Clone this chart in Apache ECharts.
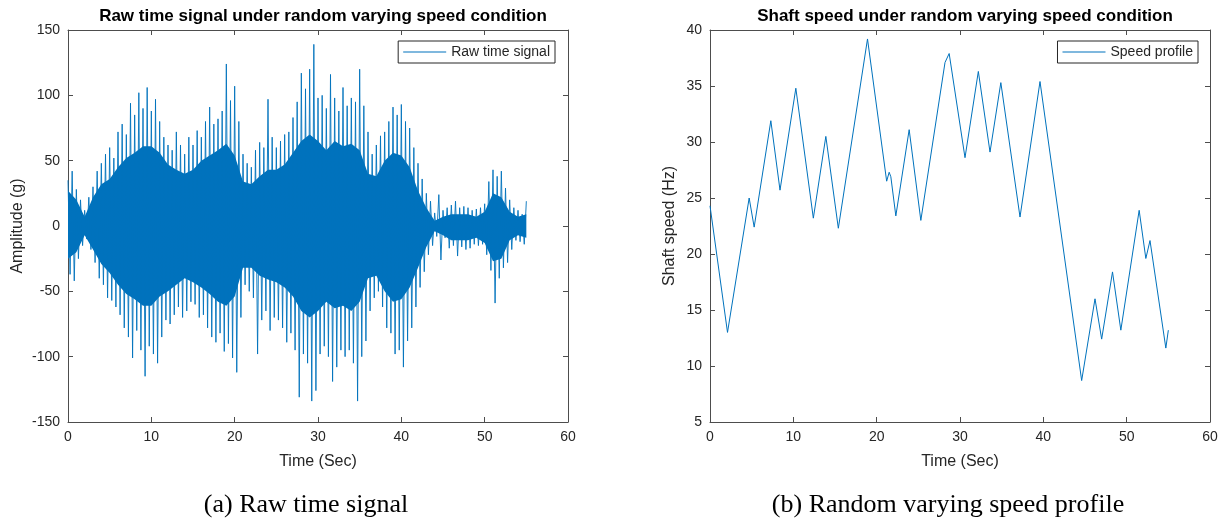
<!DOCTYPE html>
<html>
<head>
<meta charset="utf-8">
<title>Raw time signal and speed profile</title>
<script src="https://cdn.jsdelivr.net/npm/echarts@6/dist/echarts.min.js"></script>
<style>
  html, body { margin: 0; padding: 0; background: #fff; }
  #chart { width: 1226px; height: 524px; }
</style>
</head>
<body>
<div id="chart"></div>
<script>
// raw signal, solid dense core of the vibration (read every 1 s, t = 0..55)
var coreStep = 1;
var coreHi = [27, 20, 7, 22, 32, 36, 45, 52, 56, 61,
  61, 56, 47, 43, 40, 43, 50, 54, 58, 63,
  54, 34, 32, 38, 43, 43, 47, 56, 65, 70,
  65, 58, 65, 61, 63, 58, 40, 38, 50, 56,
  54, 45, 27, 14, 4, 7, 9, 9, 9, 7,
  11, 25, 22, 11, 7, 9];
var coreLo = [-25, -20, -7, -18, -29, -36, -45, -52, -56, -61,
  -61, -54, -50, -45, -40, -43, -47, -52, -58, -61,
  -54, -32, -32, -38, -41, -43, -47, -54, -65, -70,
  -65, -58, -63, -61, -65, -58, -40, -38, -50, -58,
  -56, -47, -32, -16, -4, -7, -11, -11, -11, -9,
  -13, -27, -25, -11, -7, -9];

// raw signal peaks, every 0.5 s: positive peak at t, negative peak at t + 0.25
var peakStep = 0.5;
var peakHi = [35, 42, 28, 20, 12, 22, 30, 42, 48, 55,
  60, 52, 72, 78, 70, 94, 85, 102, 90, 106,
  88, 97, 80, 68, 62, 58, 72, 62, 55, 68,
  62, 73, 68, 80, 91, 78, 82, 88, 124, 96,
  107, 80, 55, 48, 45, 58, 64, 60, 97, 68,
  60, 65, 70, 72, 83, 95, 117, 105, 120, 139,
  98, 100, 90, 116, 98, 88, 106, 92, 98, 95,
  120, 92, 72, 55, 62, 69, 72, 80, 91, 85,
  93, 80, 75, 60, 48, 36, 25, 19, 10, 24,
  12, 14, 16, 19, 14, 15, 14, 12, 13, 14,
  17, 34, 43, 38, 42, 29, 20, 14, 12, 9,
  19];
var peakLo = [-37, -42, -25, -15, -10, -18, -28, -40, -45, -55,
  -57, -62, -68, -78, -85, -101, -80, -95, -115, -92,
  -98, -105, -85, -72, -75, -68, -62, -70, -65, -58,
  -60, -70, -68, -78, -85, -89, -82, -96, -90, -101,
  -112, -70, -45, -50, -55, -98, -72, -65, -80, -70,
  -72, -78, -89, -82, -95, -131, -98, -105, -134, -126,
  -98, -92, -100, -119, -108, -95, -100, -95, -105, -134,
  -100, -88, -65, -55, -50, -62, -78, -82, -98, -95,
  -108, -88, -78, -62, -47, -35, -22, -15, -8, -26,
  -9, -17, -15, -23, -16, -18, -17, -14, -15, -14,
  -22, -34, -59, -40, -32, -28, -18, -11, -12, -14];

// shaft speed profile (Hz), turning points
var speedTime = [0, 2.1, 4.7, 5.3, 7.3, 8.4, 10.3, 12.4, 13.9, 15.4,
  18.9, 21.2, 21.5, 21.7, 22.3, 23.9, 25.3, 28.2, 28.7, 28.9,
  30.6, 32.2, 33.6, 34.9, 37.2, 39.6, 44.6, 46.2, 47.0, 48.3,
  49.3, 51.5, 52.3, 52.8, 54.7, 55.0];
var speedHz = [24.3, 13.0, 25.0, 22.4, 31.9, 25.7, 34.8, 23.2, 30.5, 22.3,
  39.2, 26.5, 27.3, 26.9, 23.4, 31.1, 23.0, 37.1, 37.9, 37.9,
  28.6, 36.3, 29.1, 35.3, 23.3, 35.4, 8.7, 16.0, 12.4, 18.4,
  13.2, 23.9, 19.6, 21.2, 11.6, 13.2];

var fontSans = '"Liberation Sans", Arial, Helvetica, sans-serif';
var textColor = '#262626';
var boxColor = '#4d4d4d';
var blue = '#0072BD';

var coreHiData = coreHi.map(function (v, i) { return [i * coreStep, v]; });
var coreLoData = coreLo.map(function (v, i) { return [i * coreStep, v]; });
var rawData = [];
peakHi.forEach(function (v, i) {
  rawData.push([i * peakStep, v]);
  if (i < peakLo.length) rawData.push([i * peakStep + peakStep / 2, peakLo[i]]);
});
var speedData = speedTime.map(function (t, i) { return [t, speedHz[i]]; });

function xAxis(grid, pos, main) {
  return {
    type: 'value', gridIndex: grid, position: pos,
    min: 0, max: 60, interval: 10,
    name: main ? 'Time (Sec)' : '', nameLocation: 'middle', nameGap: 32,
    nameTextStyle: { color: textColor, fontSize: 16, fontFamily: fontSans },
    axisLine: { show: true, onZero: false, lineStyle: { color: boxColor, width: 1 } },
    axisTick: { show: true, inside: true, length: 5, lineStyle: { color: boxColor } },
    axisLabel: { show: main, color: textColor, fontSize: 14, fontFamily: fontSans, margin: 8 },
    splitLine: { show: false }
  };
}

function yAxis(grid, pos, main, min, max, step, name, gap) {
  return {
    type: 'value', gridIndex: grid, position: pos,
    min: min, max: max, interval: step,
    name: main ? name : '', nameLocation: 'middle', nameGap: gap,
    nameTextStyle: { color: textColor, fontSize: 16, fontFamily: fontSans },
    axisLine: { show: true, onZero: false, lineStyle: { color: boxColor, width: 1 } },
    axisTick: { show: true, inside: true, length: 5, lineStyle: { color: boxColor } },
    axisLabel: { show: main, color: textColor, fontSize: 14, fontFamily: fontSans, margin: 8 },
    splitLine: { show: false }
  };
}

function legend(name, right) {
  return {
    data: [name], right: right, top: 41,
    icon: 'rect', itemWidth: 43, itemHeight: 1.2, itemGap: 0,
    padding: [4, 5, 4, 5],
    borderColor: textColor, borderWidth: 1, borderRadius: 0,
    backgroundColor: '#fff',
    textStyle: { color: textColor, fontSize: 14, fontFamily: fontSans, lineHeight: 14 }
  };
}

var chart = echarts.init(document.getElementById('chart'));
chart.setOption({
  animation: false,
  backgroundColor: '#fff',
  title: [
    { text: 'Raw time signal under random varying speed condition', left: 318, top: 3, textAlign: 'center',
      textStyle: { color: '#000', fontSize: 17, fontWeight: 'bold', fontFamily: fontSans } },
    { text: 'Shaft speed under random varying speed condition', left: 960, top: 3, textAlign: 'center',
      textStyle: { color: '#000', fontSize: 17, fontWeight: 'bold', fontFamily: fontSans } }
  ],
  legend: [legend('Raw time signal', 671), legend('Speed profile', 28)],
  grid: [
    { left: 68, top: 30, width: 500, height: 392 },
    { left: 710, top: 30, width: 500, height: 392 }
  ],
  xAxis: [xAxis(0, 'bottom', true), xAxis(0, 'top', false), xAxis(1, 'bottom', true), xAxis(1, 'top', false)],
  yAxis: [
    yAxis(0, 'left', true, -150, 150, 50, 'Amplitude (g)', 42),
    yAxis(0, 'right', false, -150, 150, 50, '', 0),
    yAxis(1, 'left', true, 5, 40, 5, 'Shaft speed (Hz)', 32),
    yAxis(1, 'right', false, 5, 40, 5, '', 0)
  ],
  series: [
    { name: 'core+', type: 'line', xAxisIndex: 0, yAxisIndex: 0, data: coreHiData,
      symbol: 'none', silent: true, lineStyle: { width: 0 },
      areaStyle: { color: blue, opacity: 1 }, itemStyle: { color: blue } },
    { name: 'core-', type: 'line', xAxisIndex: 0, yAxisIndex: 0, data: coreLoData,
      symbol: 'none', silent: true, lineStyle: { width: 0 },
      areaStyle: { color: blue, opacity: 1 }, itemStyle: { color: blue } },
    { name: 'Raw time signal', type: 'line', xAxisIndex: 0, yAxisIndex: 0, data: rawData,
      symbol: 'none', sampling: 'none', lineStyle: { color: blue, width: 1, opacity: 0.9 },
      itemStyle: { color: blue } },
    { name: 'Speed profile', type: 'line', xAxisIndex: 2, yAxisIndex: 2, data: speedData,
      symbol: 'none', lineStyle: { color: blue, width: 1 }, itemStyle: { color: blue } }
  ],
  graphic: [
    { type: 'text', x: 306, y: 505,
      style: { text: '(a) Raw time signal', font: '26px "Liberation Serif", "Times New Roman", serif',
        fill: '#000', align: 'center', verticalAlign: 'middle' } },
    { type: 'text', x: 948, y: 505,
      style: { text: '(b) Random varying speed profile', font: '26px "Liberation Serif", "Times New Roman", serif',
        fill: '#000', align: 'center', verticalAlign: 'middle' } }
  ]
});
</script>
</body>
</html>
